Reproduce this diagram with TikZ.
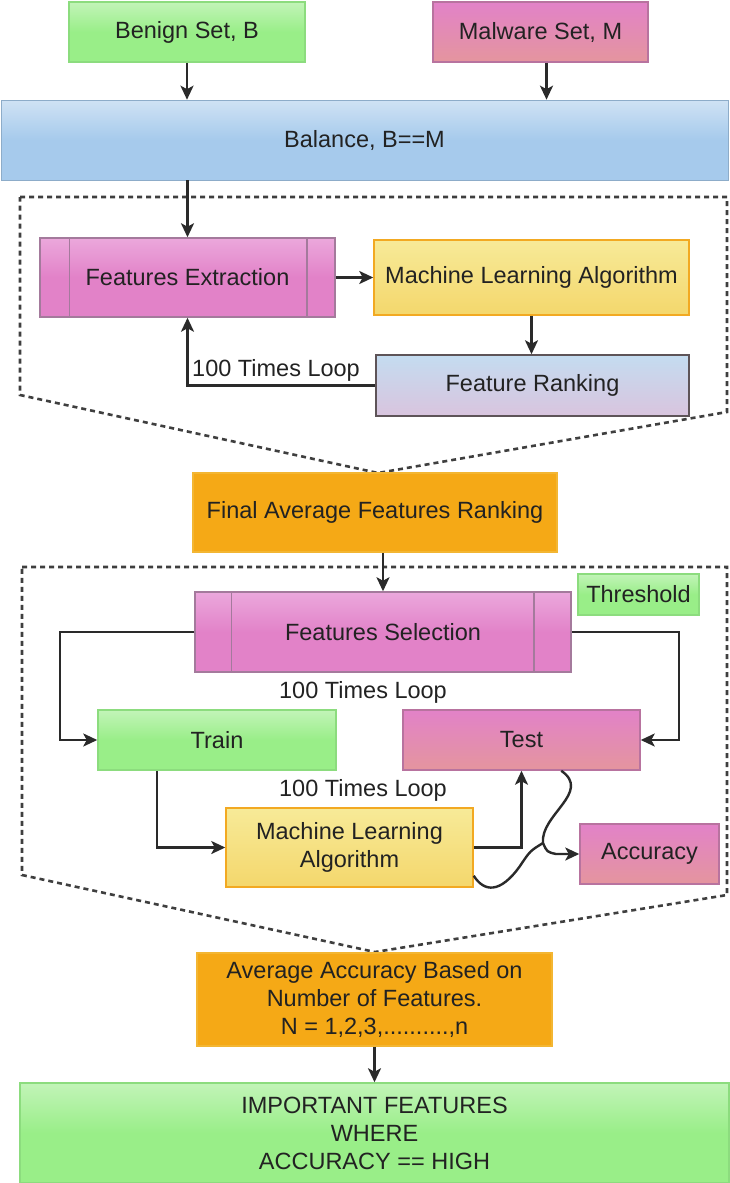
\documentclass[tikz,border=0pt]{standalone}
\usepackage{fontspec}
\setmainfont{Liberation Sans}
\usetikzlibrary{arrows.meta,calc}
\definecolor{txt}{HTML}{222222}
\definecolor{grn}{HTML}{99EE88}
\definecolor{grnlt}{HTML}{C2F4B8}
\definecolor{grnbd}{HTML}{8CDC7E}
\definecolor{pnk}{HTML}{E282C8}
\definecolor{pnklt}{HTML}{EBA8DC}
\definecolor{pnkbd}{HTML}{A47A9C}
\definecolor{pnkor}{HTML}{E4959E}
\definecolor{pnkbd2}{HTML}{B8739F}
\definecolor{blu}{HTML}{A6CAEC}
\definecolor{blult}{HTML}{CFE2F4}
\definecolor{ylwt}{HTML}{F7EA98}
\definecolor{ylwb}{HTML}{F4D76C}
\definecolor{ylwbd}{HTML}{F2A922}
\definecolor{org}{HTML}{F5A916}
\definecolor{orgbd}{HTML}{F3B633}
\definecolor{frtop}{HTML}{C4DCF0}
\definecolor{frbot}{HTML}{D9C4DE}
\definecolor{frbd}{HTML}{5E5458}
\definecolor{ln}{HTML}{2A2A2A}
\begin{document}
\begin{tikzpicture}[x=1pt,y=-1pt,
  every node/.style={text=txt, font=\fontsize{23.5}{28}\selectfont},
  box/.style={draw, line width=1.5pt, align=center, inner sep=0pt},
  greenbox/.style={box, draw=grnbd, top color=grnlt, bottom color=grn, middle color=grn},
  pinkbox/.style={box, draw=pnkbd, top color=pnklt, bottom color=pnk, middle color=pnk},
  pinkorbox/.style={box, draw=pnkbd2, top color=pnk, bottom color=pnkor},
  bluebox/.style={box, draw=blu!85!black, line width=0.6pt, top color=blult, bottom color=blu, middle color=blu},
  yelbox/.style={box, draw=ylwbd, top color=ylwt, bottom color=ylwb},
  orgbox/.style={box, draw=orgbd, fill=org},
  frbox/.style={box, draw=frbd, top color=frtop, bottom color=frbot},
  arr/.style={draw=ln, line width=2.4pt, -{Stealth[length=14pt,width=13pt,inset=3.5pt]}},
  conn/.style={draw=ln, line width=2.4pt},
  region/.style={draw=ln!90, line width=2.6pt, dash pattern=on 5pt off 4pt},
  inner/.style={draw=pnkbd, line width=1.5pt},
  lbl/.style={inner sep=0pt}
]
\useasboundingbox (0,0) rectangle (729,1183);

% dashed regions
\draw[region] (20,197) -- (727,197) -- (727,412) -- (378,473) -- (20,395) -- cycle;
\draw[region] (22,567) -- (727,567) -- (727,895) -- (375,952) -- (22,875) -- cycle;

% top nodes
\node[greenbox, minimum width=236pt, minimum height=60pt] (benign) at (187,32) {Benign Set, B};
\node[pinkorbox, minimum width=215pt, minimum height=60pt] (malware) at (540.5,32) {Malware Set, M};
\node[bluebox, minimum width=727pt, minimum height=80pt] (balance) at (364.5,140) {Balance, B==M};

% first region
\node[pinkbox, minimum width=295pt, minimum height=79pt] (fe) at (187.5,277.5) {Features Extraction};
\draw[inner] ([xshift=30]fe.north west) -- ([xshift=30]fe.south west);
\draw[inner] ([xshift=-29]fe.north east) -- ([xshift=-29]fe.south east);
\node[yelbox, minimum width=315pt, minimum height=75pt] (mla1) at (531.5,277.5) {Machine Learning Algorithm};
\node[frbox, minimum width=313pt, minimum height=61pt] (fr) at (532.5,385.5) {Feature Ranking};
\node[lbl, anchor=west] (loop1) at (192,370) {100 Times Loop};

\node[orgbox, minimum width=364pt, minimum height=79pt] (fafr) at (375,512.5) {Final Average Features Ranking};

% second region
\node[greenbox, minimum width=121pt, minimum height=41pt] (thr) at (638.5,594.5) {Threshold};
\node[pinkbox, minimum width=376pt, minimum height=80pt] (fs) at (383,632) {Features Selection};
\draw[inner] ([xshift=37]fs.north west) -- ([xshift=37]fs.south west);
\draw[inner] ([xshift=-38]fs.north east) -- ([xshift=-38]fs.south east);
\node[lbl] (loop2) at (363,692) {100 Times Loop};
\node[greenbox, minimum width=238pt, minimum height=60pt] (train) at (217,740) {Train};
\node[pinkorbox, minimum width=237pt, minimum height=60pt] (test) at (521.5,740) {Test};
\node[lbl] (loop3) at (363,790) {100 Times Loop};
\node[yelbox, minimum width=247pt, minimum height=79pt] (mla2) at (349.5,847.5) {Machine Learning\\Algorithm};
\node[pinkorbox, minimum width=139pt, minimum height=60pt] (acc) at (649.5,854) {Accuracy};

\node[orgbox, minimum width=355pt, minimum height=93pt] (avg) at (374.5,999.5) {Average Accuracy Based on\\Number of Features.\\N = 1,2,3,..........,n};
\node[greenbox, minimum width=709pt, minimum height=100pt] (imp) at (374.5,1133) {IMPORTANT FEATURES\\WHERE\\ACCURACY == HIGH};

% connectors
\coordinate (lc) at (60,700);
\coordinate (rc) at (679,700);
\coordinate (jn) at (543,843);

\draw[arr] (benign.south) -- (benign.south |- balance.north);
\draw[arr] ($(malware.south)+(6,0)$) -- ($(malware.south |- balance.north)+(6,0)$);
\draw[arr] (fe.north |- balance.south) -- (fe.north);
\draw[arr] (fe.east) -- (mla1.west);
\draw[arr] (mla1.south) -- (mla1.south |- fr.north);
\draw[arr] (fr.west) -| (fe.south);
\draw[arr] (fafr.south -| fs.north) -- (fs.north);
\draw[arr] (fs.west) -| (lc) |- (train.west);
\draw[arr] (fs.east) -| (rc) |- (test.east);
\draw[arr] ($(train.south west)+(60,0)$) |- (mla2.west);
\draw[arr] (mla2.east) -| (test.south);
\draw[arr] ($(test.south west)+(159,0)$) .. controls (592,792) and (540,815) .. (jn)
   .. controls (547,852) .. (556,854) -- (acc.west);
\draw[conn] ($(mla2.south east)+(0,-12)$) .. controls (484,892) and (500,894) .. (520,866)
   .. controls (530,851) .. (jn);
\draw[arr] (avg.south) -- (avg.south |- imp.north);
\end{tikzpicture}
\end{document}
